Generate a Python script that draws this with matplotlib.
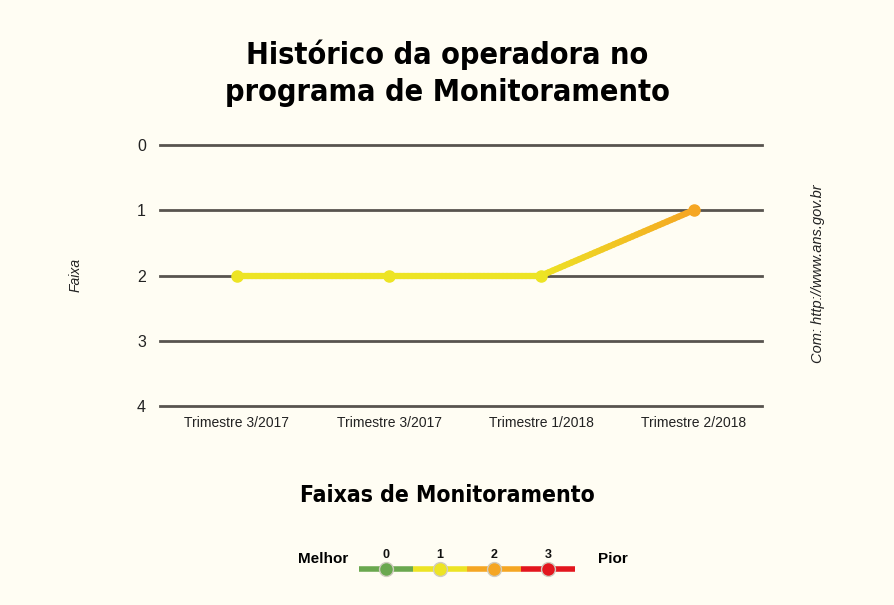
import numpy as np
import matplotlib
matplotlib.use("Agg")
import matplotlib.pyplot as plt
from matplotlib.collections import LineCollection
from matplotlib.colors import to_rgb

# data
periodos = ["Trimestre 3/2017", "Trimestre 3/2017", "Trimestre 1/2018", "Trimestre 2/2018"]
faixa = [2, 2, 2, 1]
ponto_cor = ["#ede424", "#ede424", "#ede424", "#f5a623"]
faixas_legenda = [0, 1, 2, 3]
faixas_cor = ["#6aa84f", "#ede424", "#f5a623", "#e3161e"]
yticks = [0, 1, 2, 3, 4]

BG = "#fffdf3"
GRID = "#58544f"
plt.rcParams["font.family"] = ["Liberation Sans", "DejaVu Sans"]
NARROW = dict(family=["DejaVu Sans"], fontstretch="condensed")

fig = plt.figure(figsize=(8.94, 6.05), dpi=100, facecolor=BG)
W, H = 894, 605

ax = fig.add_axes([160 / W, 1 - 406 / H, 602 / W, 261 / H])
ax.set_facecolor(BG)
ax.set_xlim(-0.505, 3.45)
ax.set_ylim(4, 0)
for s in ax.spines.values():
    s.set_visible(False)
ax.set_yticks(yticks)
ax.set_yticklabels([str(t) for t in yticks], fontsize=11.5, color="#222222")
ax.set_xticks(range(len(periodos)))
ax.set_xticklabels(periodos, fontsize=10, color="#222222")
ax.tick_params(length=0, pad=10)
ax.tick_params(axis="x", pad=7)
for t in yticks:
    ax.axhline(t, color=GRID, lw=2, clip_on=False, zorder=1)

# segments: constant colour where endpoints share colour, gradient otherwise
xs = np.arange(len(faixa))
for i in range(len(faixa) - 1):
    c0, c1 = np.array(to_rgb(ponto_cor[i])), np.array(to_rgb(ponto_cor[i + 1]))
    n = 40
    tt = np.linspace(0, 1, n + 1)
    px = xs[i] + (xs[i + 1] - xs[i]) * tt
    py = faixa[i] + (faixa[i + 1] - faixa[i]) * tt
    segs = np.stack([np.column_stack([px[:-1], py[:-1]]),
                     np.column_stack([px[1:], py[1:]])], axis=1)
    cols = [c0 + (c1 - c0) * f for f in (tt[:-1] + tt[1:]) / 2]
    ax.add_collection(LineCollection(segs, colors=cols, linewidths=4.5,
                                     capstyle="round", zorder=3))
for x, y, c in zip(xs, faixa, ponto_cor):
    ax.plot(x, y, "o", ms=8, color=c, zorder=4, clip_on=False)

fig.text(447 / W, 1 - 73 / H, "Histórico da operadora no\nprograma de Monitoramento",
         ha="center", va="center", fontsize=22, fontweight="bold",
         linespacing=1.33, color="#000000", **NARROW)
fig.text(76 / W, 1 - 275 / H, "Faixa", rotation=90, ha="center", va="center",
         fontsize=10, style="italic", color="#222222")
fig.text(818 / W, 1 - 274 / H, "Com: http://www.ans.gov.br", rotation=90,
         ha="center", va="center", fontsize=10.5, style="italic", color="#222222")

# legend of bands
fig.text(447 / W, 1 - 496 / H, "Faixas de Monitoramento", ha="center", va="center",
         fontsize=16.5, fontweight="bold", color="#000000", **NARROW)
lg = fig.add_axes([359 / W, 1 - 590 / H, 216 / W, 50 / H])
lg.set_xlim(0, len(faixas_legenda))
lg.set_ylim(0, 1)
lg.axis("off")
for i, (f, c) in enumerate(zip(faixas_legenda, faixas_cor)):
    lg.plot([i, i + 1], [0.42, 0.42], color=c, lw=4, solid_capstyle="butt")
for i, (f, c) in enumerate(zip(faixas_legenda, faixas_cor)):
    lg.plot(i + 0.5, 0.42, "o", ms=10, color=c, mec="#d0ccc0", mew=1, zorder=3)
    lg.text(i + 0.5, 0.70, str(f), ha="center", va="center", fontsize=9,
            fontweight="bold", color="#111111")
fig.text(348 / W, 1 - 559 / H, "Melhor", ha="right", va="center", fontsize=11,
         fontweight="bold", color="#000000")
fig.text(598 / W, 1 - 559 / H, "Pior", ha="left", va="center", fontsize=11,
         fontweight="bold", color="#000000")

fig.savefig("out.png", dpi=100, facecolor=BG)
